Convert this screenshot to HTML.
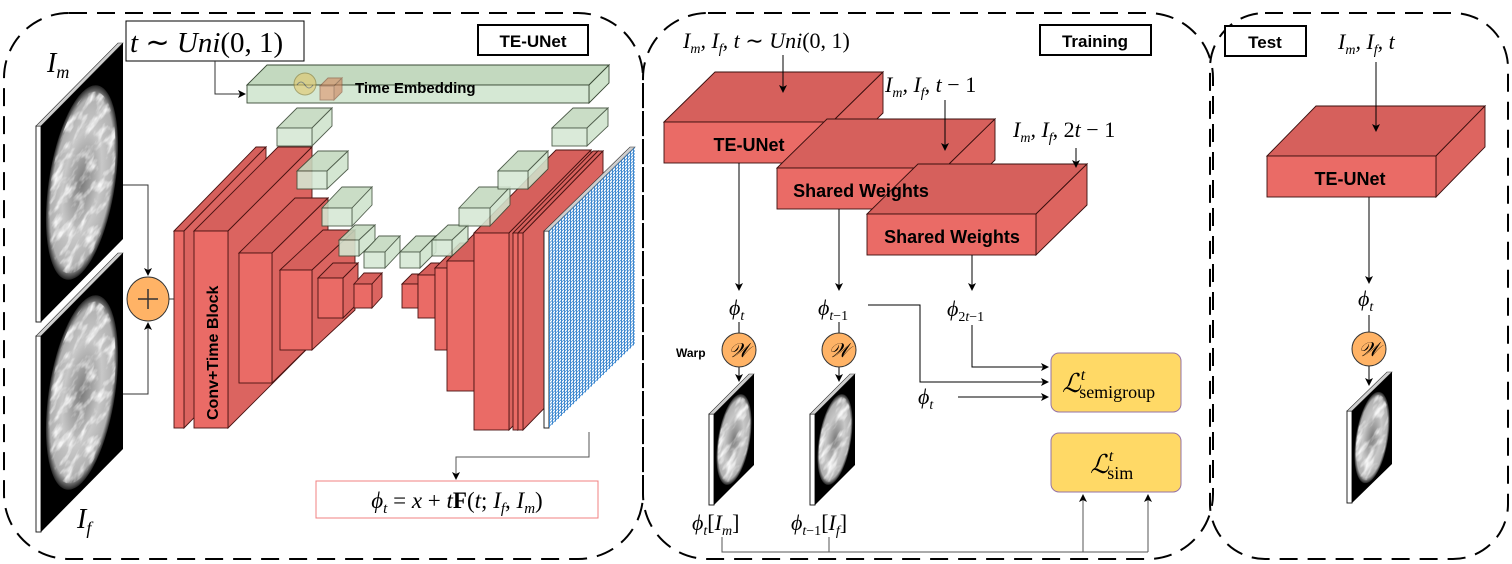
<!DOCTYPE html>
<html><head><meta charset="utf-8">
<style>
html,body{margin:0;padding:0;background:#fff;}
svg{display:block;}
.m{font-family:"Liberation Serif",serif;font-style:italic;}
.b{font-family:"Liberation Sans",sans-serif;font-weight:bold;}
</style></head>
<body>
<svg id="fig" width="1512" height="564" viewBox="0 0 1512 564" xmlns="http://www.w3.org/2000/svg">
<defs>
<marker id="ah" markerWidth="8" markerHeight="8" refX="7" refY="4" orient="auto" markerUnits="userSpaceOnUse"><path d="M0,0 L8,4 L0,8 L2,4 z" fill="#000"/></marker>
<radialGradient id="brain" cx="50%" cy="50%" r="50%"><stop offset="0" stop-color="#7a7a7a"/><stop offset="0.55" stop-color="#c8c8c8"/><stop offset="0.88" stop-color="#b0b0b0"/><stop offset="1" stop-color="#222"/></radialGradient>
<filter id="tex"><feTurbulence type="fractalNoise" baseFrequency="0.09" numOctaves="3" seed="5"/><feColorMatrix type="matrix" values="0 0 0 0 1  0 0 0 0 1  0 0 0 0 1  0 0 0 -3 1.6"/><feComposite in2="SourceGraphic" operator="in"/></filter>
<pattern id="mesh" width="3" height="3" patternUnits="userSpaceOnUse"><rect width="3" height="3" fill="#fff"/><path d="M0,0.5 H3 M0.5,0 V3" stroke="#2f7fcc" stroke-width="0.9"/></pattern>
</defs>

<rect x="4" y="13" width="639" height="546" rx="65" fill="none" stroke="#000" stroke-width="2" stroke-dasharray="18,10"/>
<rect x="643" y="13" width="570" height="546" rx="65" fill="none" stroke="#000" stroke-width="2" stroke-dasharray="18,10"/>
<rect x="1210" y="13" width="298" height="546" rx="55" fill="none" stroke="#000" stroke-width="2" stroke-dasharray="18,10"/>

<g><rect x="478" y="25" width="110" height="30" fill="#fff" stroke="#000" stroke-width="2"/><text x="533" y="47" text-anchor="middle" class="b" font-size="17">TE-UNet</text></g>
<g><rect x="1040" y="25" width="111" height="30" fill="#fff" stroke="#000" stroke-width="2"/><text x="1095" y="47" text-anchor="middle" class="b" font-size="17">Training</text></g>
<g><rect x="1225" y="26" width="81" height="30" fill="#fff" stroke="#000" stroke-width="2"/><text x="1265" y="48" text-anchor="middle" class="b" font-size="17">Test</text></g>

<g id="brainslabs"></g>
<text x="47" y="72" class="m" font-size="28">I<tspan font-size="18" dy="6">m</tspan></text>
<text x="77" y="528" class="m" font-size="28">I<tspan font-size="18" dy="6">f</tspan></text>

<g><rect x="126" y="21" width="178" height="40" fill="#fff" stroke="#000" stroke-width="1"/><text x="130" y="52" class="m" font-size="29">t <tspan font-style="normal">∼</tspan> Uni<tspan font-style="normal">(0, 1)</tspan></text></g>
<path d="M215,61 V94 H245" fill="none" stroke="#333" stroke-width="1" marker-end="url(#ah)"/>

<path d="M123,185 H148 V275" fill="none" stroke="#333" marker-end="url(#ah)"/>
<path d="M123,394 H148 V323" fill="none" stroke="#333" marker-end="url(#ah)"/>
<line x1="169" y1="299" x2="176" y2="299" stroke="#333"/>
<g><ellipse cx="148" cy="299" rx="21" ry="22" fill="#ffb366" stroke="#333"/><path d="M138,299 H158 M148,289 V309" stroke="#333" stroke-width="1.5"/></g>

<g id="unet"></g>
<g id="mid"></g>

<text transform="translate(218,420) rotate(-90)" class="b" font-size="16">Conv+Time Block</text>
<text x="355" y="93" class="b" font-size="15">Time Embedding</text>

<path d="M589,432 V457 H456 V479" fill="none" stroke="#555" marker-end="url(#ah)"/>
<g><rect x="316" y="481" width="282" height="37" fill="#fff" stroke="#f08080" stroke-width="1"/>
<text x="457" y="508" text-anchor="middle" class="m" font-size="23">ϕ<tspan font-size="15" dy="5">t</tspan><tspan dy="-5" font-style="normal"> = </tspan>x<tspan font-style="normal"> + </tspan>t<tspan font-style="normal" font-weight="bold">F</tspan><tspan font-style="normal">(</tspan>t<tspan font-style="normal">; </tspan>I<tspan font-size="15" dy="5">f</tspan><tspan dy="-5" font-style="normal">, </tspan>I<tspan font-size="15" dy="5">m</tspan><tspan dy="-5" font-style="normal">)</tspan></text></g>

<text x="683" y="48" class="m" font-size="22">I<tspan font-size="14" dy="5">m</tspan><tspan dy="-5">, I</tspan><tspan font-size="14" dy="5">f</tspan><tspan dy="-5">, t </tspan><tspan font-style="normal">∼</tspan> Uni<tspan font-style="normal">(0, 1)</tspan></text>
<text x="885" y="92" class="m" font-size="22">I<tspan font-size="14" dy="5">m</tspan><tspan dy="-5">, I</tspan><tspan font-size="14" dy="5">f</tspan><tspan dy="-5">, t </tspan><tspan font-style="normal">− 1</tspan></text>
<text x="1013" y="137" class="m" font-size="22">I<tspan font-size="14" dy="5">m</tspan><tspan dy="-5">, I</tspan><tspan font-size="14" dy="5">f</tspan><tspan dy="-5" font-style="normal">, 2</tspan>t<tspan font-style="normal"> − 1</tspan></text>
<path d="M783,55 V92" stroke="#000" marker-end="url(#ah)"/>
<path d="M945,100 V150" stroke="#000" marker-end="url(#ah)"/>
<path d="M1076,148 V167" stroke="#000" marker-end="url(#ah)"/>

<path d="M739,163 V290" stroke="#000" marker-end="url(#ah)"/>
<path d="M839,209 V290" stroke="#000" marker-end="url(#ah)"/>
<path d="M972,255 V290" stroke="#000" marker-end="url(#ah)"/>

<text x="729" y="315" class="m" font-size="22">ϕ<tspan font-size="14" dy="5">t</tspan></text>
<text x="818" y="315" class="m" font-size="22">ϕ<tspan font-size="14" dy="5">t<tspan font-style="normal">−1</tspan></tspan></text>
<text x="947" y="316" class="m" font-size="22">ϕ<tspan font-size="14" dy="5" font-style="normal">2<tspan font-style="italic">t</tspan>−1</tspan></text>

<path d="M868,305 H920 V382 H1048" fill="none" stroke="#000" marker-end="url(#ah)"/>
<path d="M972,325 V367 H1048" fill="none" stroke="#000" marker-end="url(#ah)"/>
<path d="M958,397 H1048" fill="none" stroke="#000" marker-end="url(#ah)"/>
<text x="918" y="404" class="m" font-size="22">ϕ<tspan font-size="14" dy="5">t</tspan></text>

<line x1="739" y1="322" x2="739" y2="333" stroke="#000"/>
<line x1="839" y1="322" x2="839" y2="333" stroke="#000"/>
<line x1="1369" y1="315" x2="1369" y2="332" stroke="#000"/>
<text x="676" y="357" class="b" font-size="12">Warp</text>
<g><circle cx="739" cy="350" r="17" fill="#ffb366" stroke="#333"/><text x="739" y="357" text-anchor="middle" class="m" font-size="20">𝒲</text></g>
<g><circle cx="839" cy="350" r="17" fill="#ffb366" stroke="#333"/><text x="839" y="357" text-anchor="middle" class="m" font-size="20">𝒲</text></g>
<g><circle cx="1369" cy="349" r="17" fill="#ffb366" stroke="#333"/><text x="1369" y="356" text-anchor="middle" class="m" font-size="20">𝒲</text></g>

<text x="692" y="530" class="m" font-size="22">ϕ<tspan font-size="14" dy="5">t</tspan><tspan dy="-5" font-style="normal">[</tspan>I<tspan font-size="14" dy="5">m</tspan><tspan dy="-5" font-style="normal">]</tspan></text>
<text x="791" y="530" class="m" font-size="22">ϕ<tspan font-size="14" dy="5">t<tspan font-style="normal">−1</tspan></tspan><tspan dy="-5" font-style="normal">[</tspan>I<tspan font-size="14" dy="5">f</tspan><tspan dy="-5" font-style="normal">]</tspan></text>
<path d="M722,537 V552 H1148 M829,537 V552" fill="none" stroke="#555"/>
<path d="M1083,552 V495" stroke="#555" marker-end="url(#ah)"/>
<path d="M1148,552 V495" stroke="#555" marker-end="url(#ah)"/>

<g><rect x="1051" y="353" width="130" height="59" rx="8" fill="#ffd966" stroke="#9673a6"/><text x="1062" y="392" class="m" font-size="26">ℒ<tspan font-size="16" dy="-12">t</tspan><tspan font-size="18" dy="18" font-style="normal" dx="-6">semigroup</tspan></text></g>
<g><rect x="1051" y="433" width="130" height="59" rx="8" fill="#ffd966" stroke="#9673a6"/><text x="1090" y="473" class="m" font-size="26">ℒ<tspan font-size="16" dy="-12">t</tspan><tspan font-size="18" dy="18" font-style="normal" dx="-6">sim</tspan></text></g>

<text x="1338" y="49" class="m" font-size="22">I<tspan font-size="14" dy="5">m</tspan><tspan dy="-5">, I</tspan><tspan font-size="14" dy="5">f</tspan><tspan dy="-5">, t</tspan></text>
<path d="M1376,62 V131" stroke="#000" marker-end="url(#ah)"/>
<path d="M1369,197 V283" stroke="#000" marker-end="url(#ah)"/>
<text x="1358" y="306" class="m" font-size="22">ϕ<tspan font-size="14" dy="5">t</tspan></text>
</svg>
<script>
const NS = 'http://www.w3.org/2000/svg';
function mk(tag, attrs, parent) {
  const e = document.createElementNS(NS, tag);
  for (const k in attrs) e.setAttribute(k, attrs[k]);
  parent.appendChild(e);
  return e;
}
function box3(parent, name, x, y, w, h, dx, dy, c) {
  const g = mk('g', {}, parent);
  
  
  if (c.op) g.setAttribute('opacity', c.op);
  mk('polygon', {points: `${x},${y} ${x+dx},${y+dy} ${x+w+dx},${y+dy} ${x+w},${y}`, fill: c.top, stroke: c.st, 'stroke-width': 0.9}, g);
  mk('polygon', {points: `${x+w},${y} ${x+w+dx},${y+dy} ${x+w+dx},${y+h+dy} ${x+w},${y+h}`, fill: c.side, stroke: c.st, 'stroke-width': 0.9}, g);
  mk('rect', {x: x, y: y, width: w, height: h, fill: c.front, stroke: c.st, 'stroke-width': 0.9}, g);
  return g;
}
const RED = {front: '#ea6b66', top: '#d6605c', side: '#db6460', st: '#4a1312'};
const GREEN = {front: '#d5e8d4', top: '#c3d9bf', side: '#cfe3cc', st: '#3a4a36', op: 0.88};
function slab(parent, name, x, y, w, h, d, kind) {
  const g = mk('g', {}, parent);
  
  
  mk('rect', {x: x - 5, y: y, width: 5, height: h, fill: '#fff', stroke: '#111', 'stroke-width': 0.9}, g);
  mk('polygon', {points: `${x-5},${y} ${x+w-5},${y-d} ${x+w},${y-d} ${x},${y}`, fill: '#cfcfcf', stroke: '#333', 'stroke-width': 0.6}, g);
  const inner = mk('g', {transform: `translate(${x},${y}) matrix(1,${-d/w},0,1,0,0)`}, g);
  if (kind === 'mesh') {
    mk('rect', {x: 0, y: 0, width: w, height: h, fill: 'url(#mesh)'}, inner);
  } else {
    mk('rect', {x: 0, y: 0, width: w, height: h, fill: '#000'}, inner);
    mk('ellipse', {cx: w/2, cy: h/2, rx: w*0.44, ry: h*0.46, fill: 'url(#brain)'}, inner);
    mk('ellipse', {cx: w/2, cy: h/2, rx: w*0.41, ry: h*0.43, fill: '#444', filter: 'url(#tex)', opacity: 0.85}, inner);
  }
  return g;
}
const bs = document.getElementById('brainslabs');
slab(bs, 'moving-image-slab', 41, 126, 82, 196, 83, 'brain');
slab(bs, 'fixed-image-slab', 41, 336, 82, 196, 83, 'brain');

const u = document.getElementById('unet');
box3(u, 'time-embedding-bar', 247, 85, 342, 18, 20, -20, {front: '#d5e8d4', top: '#c3d9bf', side: '#cfe3cc', st: '#3a4a36'});
const sine = mk('g', {opacity: 0.6}, u);


mk('circle', {cx: 305, cy: 84, r: 11, fill: '#e3c86a', stroke: '#8a7a30'}, sine);
mk('path', {d: 'M297,85 q4,-6 8,0 t8,0', fill: 'none', stroke: '#555'}, sine);
box3(sine, 'embedding-cube', 320, 86, 14, 14, 8, -8, {front: '#e0936a', top: '#d88a60', side: '#d07f56', st: '#8a4a30'});

box3(u, 'encoder-block-1', 174, 231, 10, 197, 82, -84, RED);
box3(u, 'encoder-block-2', 194, 231, 34, 197, 84, -84, RED);
box3(u, 'encoder-block-3', 239, 253, 33, 130, 56, -55, RED);
box3(u, 'encoder-block-4', 280, 270, 32, 80, 43, -40, RED);
box3(u, 'encoder-block-5', 318, 278, 25, 40, 15, -15, RED);
box3(u, 'encoder-block-6', 354, 284, 18, 24, 10, -11, RED);
box3(u, 'decoder-block-1', 402, 284, 16, 24, 10, -10, RED);
box3(u, 'decoder-block-2', 418, 275, 17, 43, 13, -12, RED);
box3(u, 'decoder-block-3', 435, 268, 12, 82, 25, -25, RED);
box3(u, 'decoder-block-4', 447, 261, 27, 130, 40, -40, RED);
box3(u, 'decoder-block-5', 474, 233, 35, 197, 82, -83, RED);
box3(u, 'decoder-block-6', 513, 233, 5, 197, 80, -82, RED);
box3(u, 'decoder-block-7', 518, 233, 5, 197, 80, -82, RED);
slab(u, 'deformation-field-mesh', 549, 231, 86, 197, 84, 'mesh');
box3(u, 'time-emb-enc-1', 277, 128, 35, 18, 20, -20, GREEN);
box3(u, 'time-emb-enc-2', 297, 171, 30, 18, 21, -20, GREEN);
box3(u, 'time-emb-enc-3', 322, 208, 30, 18, 20, -21, GREEN);
box3(u, 'time-emb-enc-4', 339, 240, 20, 16, 16, -15, GREEN);
box3(u, 'time-emb-enc-5', 364, 252, 21, 16, 15, -16, GREEN);
box3(u, 'time-emb-dec-1', 400, 252, 20, 16, 16, -16, GREEN);
box3(u, 'time-emb-dec-2', 432, 240, 20, 16, 16, -15, GREEN);
box3(u, 'time-emb-dec-3', 459, 208, 31, 18, 20, -21, GREEN);
box3(u, 'time-emb-dec-4', 498, 171, 30, 18, 20, -20, GREEN);
box3(u, 'time-emb-dec-5', 552, 128, 35, 18, 21, -20, GREEN);

const m = document.getElementById('mid');
const RED2 = {front: '#ea6b66', top: '#d6605c', side: '#dd6560', st: '#3a0f0e'};
box3(m, 'training-te-unet-block', 664, 122, 168, 41, 51, -50, RED2);
box3(m, 'shared-weights-block-1', 777, 168, 168, 41, 50, -49, RED2);
box3(m, 'shared-weights-block-2', 867, 214, 169, 41, 51, -50, RED2);
box3(m, 'test-te-unet-block', 1267, 156, 169, 41, 49, -50, RED2);
function label(x, y, txt, name) {
  const t = mk('text', {x: x, y: y, 'text-anchor': 'middle', class: 'b', 'font-size': 18}, m);
  
  
  t.textContent = txt;
}
label(749, 151, 'TE-UNet', 'te-unet-block-label');
label(861, 197, 'Shared Weights', 'shared-weights-label-1');
label(952, 243, 'Shared Weights', 'shared-weights-label-2');
label(1350, 185, 'TE-UNet', 'test-te-unet-label');
slab(m, 'warped-moving-slab', 714, 414, 40, 91, 40, 'brain');
slab(m, 'warped-fixed-slab', 815, 414, 40, 91, 40, 'brain');
slab(m, 'test-warped-slab', 1352, 411, 40, 92, 39, 'brain');
mk('path', {d: 'M739,367 V381', stroke: '#000', 'marker-end': 'url(#ah)'}, m);
mk('path', {d: 'M839,367 V381', stroke: '#000', 'marker-end': 'url(#ah)'}, m);
mk('path', {d: 'M1369,366 V385', stroke: '#000', 'marker-end': 'url(#ah)'}, m);
</script>
</body></html>
